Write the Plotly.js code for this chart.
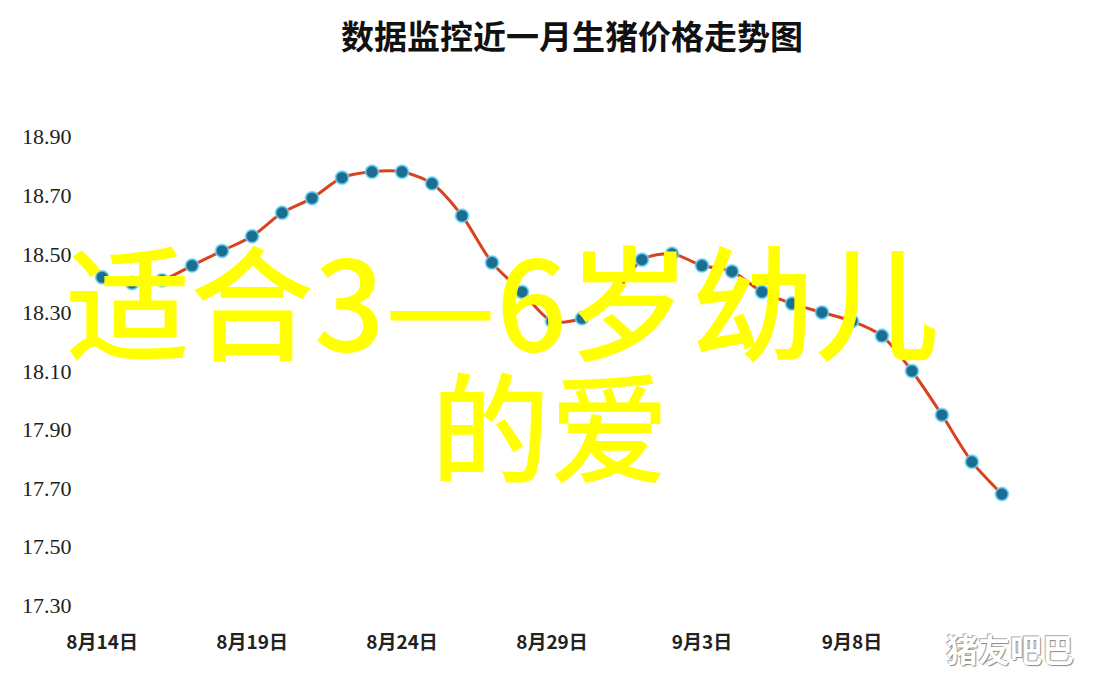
<!DOCTYPE html>
<html>
<head>
<meta charset="utf-8">
<script src="https://cdn.plot.ly/plotly-3.0.1.min.js"></script>
<style>html,body{margin:0;padding:0;background:#fff;}#chart{width:1100px;height:687px;}</style>
</head>
<body>
<div id="chart"></div>
<script>
const dates = ["8月14日","8月15日","8月16日","8月17日","8月18日","8月19日","8月20日","8月21日","8月22日","8月23日",
  "8月24日","8月25日","8月26日","8月27日","8月28日","8月29日","8月30日","8月31日","9月1日","9月2日",
  "9月3日","9月4日","9月5日","9月6日","9月7日","9月8日","9月9日","9月10日","9月11日","9月12日","9月13日"];
const prices = [18.42,18.40,18.41,18.46,18.51,18.56,18.64,18.69,18.76,18.78,
  18.78,18.74,18.63,18.47,18.37,18.27,18.28,18.35,18.48,18.50,
  18.46,18.44,18.37,18.33,18.30,18.27,18.22,18.10,17.95,17.79,17.68];
const xTicks = ["8月14日","8月19日","8月24日","8月29日","9月3日","9月8日"];
const yTicks = [17.30,17.50,17.70,17.90,18.10,18.30,18.50,18.70,18.90];
const yTickText = ["17.30","17.50","17.70","17.90","18.10","18.30","18.50","18.70","18.90"];

const trace = {
  x: dates, y: prices, type: "scatter", mode: "lines+markers",
  line: {shape: "spline", smoothing: 0.8, color: "#d9421c", width: 3},
  marker: {size: 13, color: "#1c6e90", line: {color: "rgba(110,215,250,0.75)", width: 2}},
  hoverinfo: "x+y"
};
const PB = 620, PH = 498, PL = 85, PW = 955;
const layout = {
  width: 1100, height: 687,
  margin: {l: 85, r: 60, t: 122, b: 67},
  paper_bgcolor: "#fff", plot_bgcolor: "#fff",
  showlegend: false,
  title: {text: "数据监控近一月生猪价格走势图", x: 0.52, xanchor: "center", y: 0.945, yanchor: "middle",
    font: {family: "Noto Sans CJK SC", size: 33, color: "#111", weight: 700}},
  xaxis: {type: "category", range: [-0.57, 31.27], tickmode: "array", tickvals: xTicks, ticktext: xTicks,
    showgrid: false, zeroline: false, showline: false, ticks: "outside", ticklen: 5, tickcolor: "rgba(0,0,0,0)",
    tickfont: {family: "Noto Sans CJK SC", size: 19, color: "#222", weight: 700}},
  yaxis: {range: [17.25, 18.95], tickmode: "array", tickvals: yTicks, ticktext: yTickText,
    showgrid: false, zeroline: false, showline: false, ticks: "outside", ticklen: 8, tickcolor: "rgba(0,0,0,0)",
    tickfont: {family: "Liberation Serif", size: 22, color: "#222"}},
  annotations: [
    {text: "适合3—6岁幼儿", xref: "paper", yref: "paper", x: (502-PL)/PW, y: (PB-297)/PH, xanchor: "center", yanchor: "middle",
      showarrow: false, font: {family: "Noto Sans CJK SC", size: 124, color: "#ffff00", weight: 500}},
    {text: "的爱", xref: "paper", yref: "paper", x: (550-PL)/PW, y: (PB-422)/PH, xanchor: "center", yanchor: "middle",
      showarrow: false, font: {family: "Noto Sans CJK SC", size: 119, color: "#ffff00", weight: 500}},
    {text: "猪友吧巴", xref: "paper", yref: "paper", x: (1010-PL)/PW, y: (PB-648)/PH, xanchor: "center", yanchor: "middle",
      showarrow: false, font: {family: "Noto Sans CJK SC", size: 32, color: "#ffffff", weight: 700, shadow: "1px 1px 1px #888, -1px -1px 0px #aaa"}}
  ]
};
Plotly.newPlot("chart", [trace], layout, {displayModeBar: false, staticPlot: true});
</script>
</body>
</html>
